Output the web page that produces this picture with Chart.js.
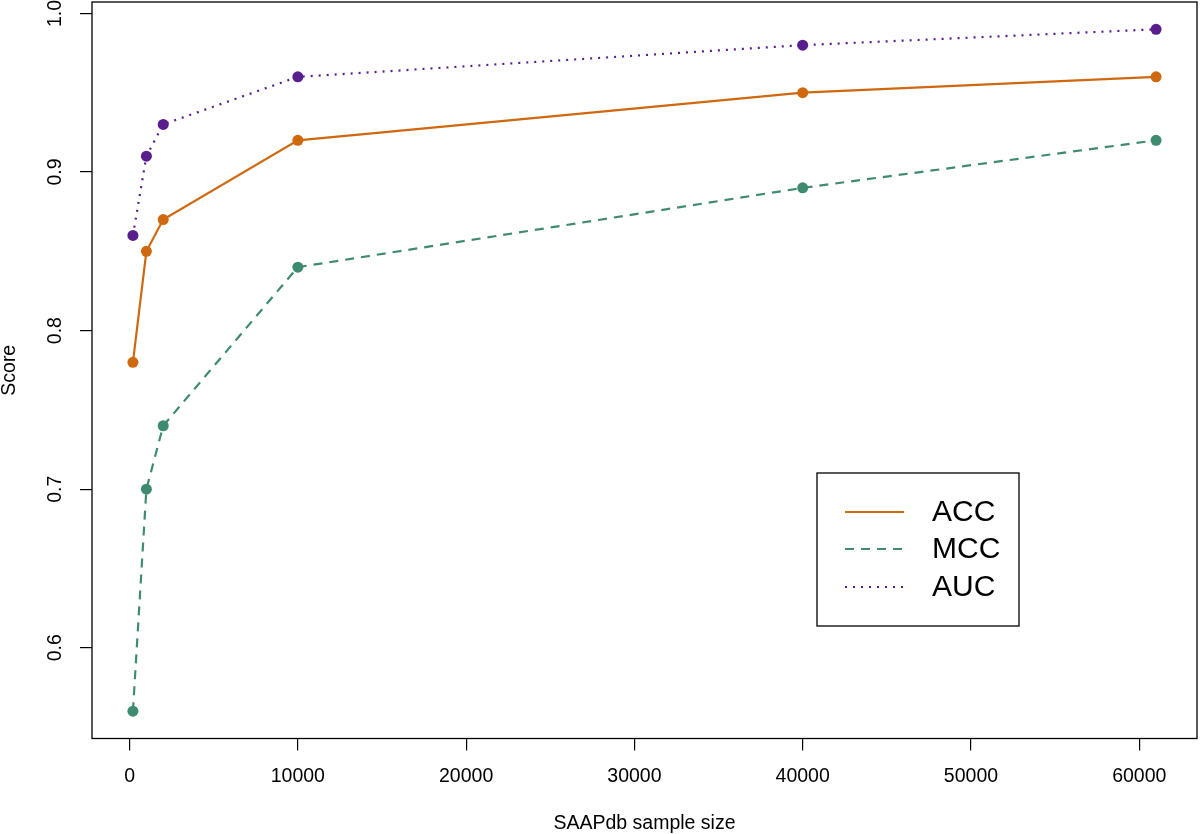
<!DOCTYPE html>
<html>
<head>
<meta charset="utf-8">
<script src="https://cdn.jsdelivr.net/npm/chart.js@4/dist/chart.umd.min.js"></script>
<style>
html,body{margin:0;padding:0;background:#fff;}
#wrap{width:1200px;height:834px;}
</style>
</head>
<body>
<div id="wrap"><canvas id="c" width="1200" height="834"></canvas></div>
<script>
const sampleSizes = [200, 1000, 2000, 10000, 40000, 61000];
const accValues = [0.78, 0.85, 0.87, 0.92, 0.95, 0.96];
const mccValues = [0.56, 0.70, 0.74, 0.84, 0.89, 0.92];
const aucValues = [0.86, 0.91, 0.93, 0.96, 0.98, 0.99];
const seriesNames = ['ACC', 'MCC', 'AUC'];
const xTickValues = [0, 10000, 20000, 30000, 40000, 50000, 60000];
const yTickValues = [0.6, 0.7, 0.8, 0.9, 1.0];
const yTickLabels = ['0.6', '0.7', '0.8', '0.9', '1.0'];

const FONT = '"Liberation Sans", Arial, Helvetica, sans-serif';
const COLORS = ['#CF680F', '#3F8B6F', '#5A1D8E'];
const DASHES = [[], [9, 7], [2, 6]];

function pts(vals){ return sampleSizes.map((x,i)=>({x:x, y:vals[i]})); }

const boxPlugin = {
  id: 'rstyle',
  afterDraw(chart){
    const ctx = chart.ctx, a = chart.chartArea;
    ctx.save();
    ctx.strokeStyle = '#000'; ctx.lineWidth = 1.3;
    ctx.strokeRect(a.left, a.top, a.right - a.left, a.bottom - a.top);
    // y tick labels (rotated, R style)
    const ys = chart.scales.y;
    ctx.fillStyle = '#000';
    ctx.font = '19.5px ' + FONT;
    ctx.textAlign = 'center'; ctx.textBaseline = 'middle';
    ys.ticks.forEach((t, i)=>{
      const y = ys.getPixelForValue(t.value);
      ctx.save(); ctx.translate(56, y); ctx.rotate(-Math.PI/2);
      ctx.fillText(yTickLabels[i], 0, 0);
      ctx.restore();
    });
    // legend
    const lx = 817, ly = 473, lw = 202, lh = 153;
    ctx.fillStyle = '#fff'; ctx.fillRect(lx, ly, lw, lh);
    ctx.strokeStyle = '#000'; ctx.lineWidth = 1.3;
    ctx.strokeRect(lx, ly, lw, lh);
    const rows = [512, 549, 587];
    chart.data.datasets.forEach((ds, i)=>{
      ctx.save();
      ctx.strokeStyle = ds.borderColor; ctx.lineWidth = ds.borderWidth;
      ctx.setLineDash(ds.borderDash || []);
      ctx.beginPath(); ctx.moveTo(845, rows[i]); ctx.lineTo(904, rows[i]); ctx.stroke();
      ctx.restore();
      ctx.fillStyle = '#000';
      ctx.font = '30px ' + FONT;
      ctx.textAlign = 'left'; ctx.textBaseline = 'middle';
      ctx.fillText(ds.label, 932, rows[i] + 1);
    });
    ctx.restore();
  }
};

new Chart(document.getElementById('c'), {
  type: 'line',
  data: {
    datasets: [accValues, mccValues, aucValues].map((v, i)=>({
      label: seriesNames[i],
      data: pts(v),
      borderColor: COLORS[i],
      backgroundColor: COLORS[i],
      pointBackgroundColor: COLORS[i],
      pointBorderWidth: 0,
      pointRadius: 5.5,
      borderWidth: 2.2,
      borderDash: DASHES[i],
      borderCapStyle: 'butt',
      tension: 0,
      fill: false
    }))
  },
  options: {
    responsive: false,
    animation: false,
    devicePixelRatio: 1,
    layout: { autoPadding: false, padding: { top: 2, right: 3, left: 0, bottom: 0 } },
    plugins: { legend: { display: false }, tooltip: { enabled: false } },
    scales: {
      x: {
        type: 'linear',
        min: -2232, max: 63432,
        afterBuildTicks(s){ s.ticks = xTickValues.map(v => ({ value: v })); },
        afterFit(s){ s.height = 95.5; s.paddingLeft = 0; s.paddingRight = 0; },
        ticks: {
          autoSkip: false, maxRotation: 0, minRotation: 0,
          color: '#000', font: { family: FONT, size: 19.5 }, padding: 14,
          callback: v => String(v)
        },
        grid: { drawOnChartArea: false, drawTicks: true, tickLength: 12, color: '#000', lineWidth: 1.2 },
        border: { display: false },
        title: { display: true, text: 'SAAPdb sample size', color: '#000',
          font: { family: FONT, size: 19.5, lineHeight: 1.1 }, padding: { top: 0, bottom: 0 } }
      },
      y: {
        type: 'linear',
        min: 0.5428, max: 1.0072,
        afterBuildTicks(s){ s.ticks = yTickValues.map(v => ({ value: v })); },
        afterFit(s){ s.width = 92; s.paddingTop = 0; s.paddingBottom = 0; },
        ticks: { autoSkip: false, color: 'rgba(0,0,0,0)', font: { family: FONT, size: 1 }, padding: 0 },
        grid: { drawOnChartArea: false, drawTicks: true, tickLength: 12, color: '#000', lineWidth: 1.2 },
        border: { display: false },
        title: { display: true, text: 'Score', color: '#000',
          font: { family: FONT, size: 19.5, lineHeight: 1 }, padding: { top: 0, bottom: 0 } }
      }
    }
  },
  plugins: [boxPlugin]
});
</script>
</body>
</html>
